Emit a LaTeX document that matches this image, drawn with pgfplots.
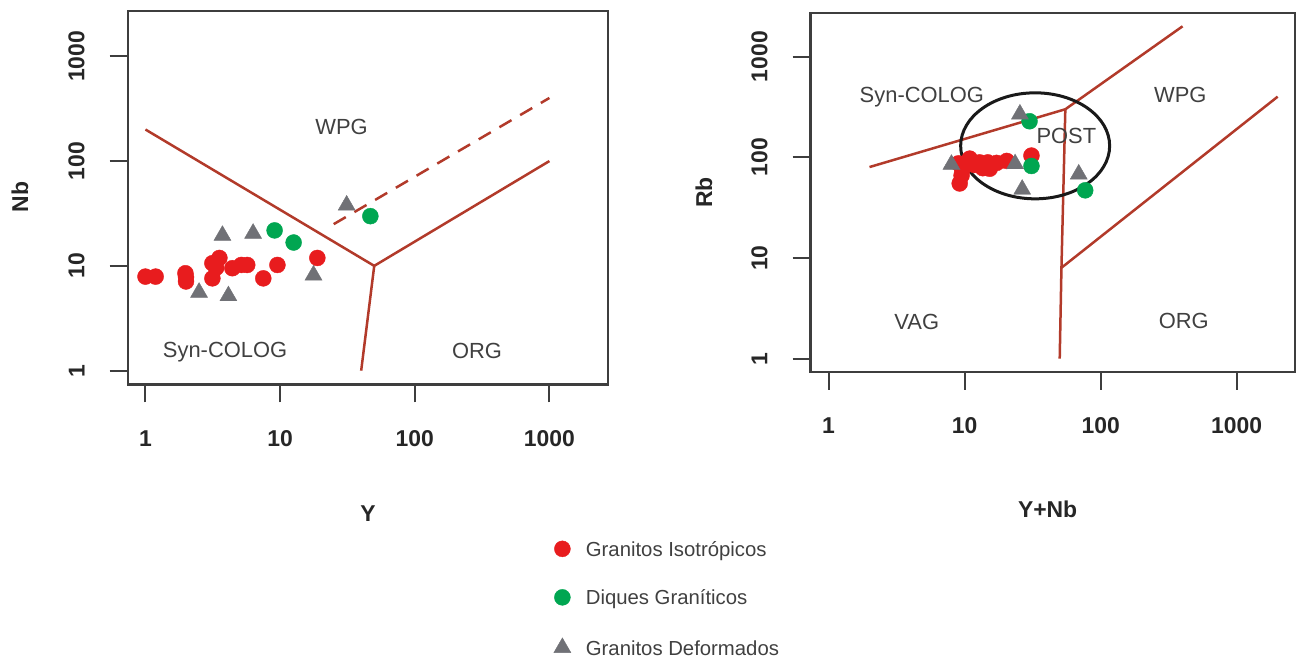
\documentclass[border=0pt]{standalone}
\usepackage{fontspec}
\setmainfont{Liberation Sans}
\usepackage{pgfplots}
\pgfplotsset{compat=1.18}
\definecolor{bnd}{RGB}{178,58,42}
\definecolor{ptred}{RGB}{232,28,30}
\definecolor{ptgreen}{RGB}{0,166,81}
\definecolor{ptgray}{RGB}{112,113,118}
\definecolor{frame}{RGB}{62,62,62}
\definecolor{txt}{RGB}{64,64,64}
\tikzset{rlab/.style={font=\fontsize{22}{22}\selectfont, text=txt}}
\pgfplotsset{
  bline/.style={draw=bnd, line width=2.5bp, mark=none, forget plot},
  redpt/.style={only marks, mark=*, mark size=8bp, mark options={fill=ptred, draw=ptred}},
  greenpt/.style={only marks, mark=*, mark size=8bp, mark options={fill=ptgreen, draw=ptgreen}},
  graypt/.style={only marks, mark=triangle*, mark size=9.8bp, mark options={fill=ptgray, draw=ptgray}},
}
\begin{document}
\begin{tikzpicture}
\useasboundingbox (0,0) rectangle (1296bp,658bp);
\clip (0,0) rectangle (1296bp,658bp);
% ---------------- left: Nb vs Y
\begin{axis}[
  scale only axis,
  xmode=log, ymode=log,
  xmin=0.7379, xmax=2710, ymin=0.7379, ymax=2710,
  xtick={1,10,100,1000}, ytick={1,10,100,1000},
  xticklabels={1,10,100,1000}, yticklabels={1,10,100,1000},
  xminorticks=false, yminorticks=false,
  axis line style={draw=frame, line width=2.4bp},
  major tick style={draw=frame, line width=2bp},
  major tick length=18bp,
  tick align=outside,
  xtick pos=bottom, ytick pos=left,
  ticklabel style={font=\fontsize{23}{23}\selectfont\bfseries, text=black!85, inner sep=0pt},
  xticklabel style={anchor=north, yshift=-27.75bp},
  yticklabel style={rotate=90, anchor=south, yshift=25bp},
  label style={font=\fontsize{23}{23}\selectfont\bfseries, text=black!85, inner sep=0pt},
  clip=false,
  at={(127.7bp,273.5bp)}, anchor=south west,
  width=480bp, height=373.6bp,
  xlabel={Y}, ylabel={Nb},
  xlabel style={at={(axis description cs:0.5006,-0.3466)}, anchor=center},
  ylabel style={at={(axis description cs:-0.2244,0.502)}, anchor=center},
  legend style={at={(axis description cs:0.8875,-0.418)}, anchor=north west,
    draw=none, fill=none, inner xsep=0pt, inner ysep=0pt,
    font=\fontsize{20.4}{20.4}\selectfont, text=txt,
    nodes={inner sep=0pt, text depth=0pt},
    row sep=32.5bp,
    /tikz/every odd column/.append style={column sep=15bp}},
  legend cell align=left,
  legend image code/.code={\draw[mark repeat=2,mark phase=2] plot coordinates {(-7bp,0bp)(0bp,0bp)(7bp,0bp)};},
]
\addplot[bline] coordinates {(1,200) (50,10)};
\addplot[bline] coordinates {(50,10) (40,1)};
\addplot[bline] coordinates {(50,10) (1000,100)};
\addplot[bline, dash pattern=on 14bp off 10bp] coordinates {(25,25) (1000,400)};
\node[rlab] at (axis cs:28.6,212) {WPG};
\node[rlab] at (axis cs:3.9,1.5) {Syn-COLOG};
\node[rlab] at (axis cs:290,1.55) {ORG};
\addplot[redpt] table {
1.00 7.9
1.19 7.9
1.98 8.5
2.00 7.8
2.00 7.1
3.14 10.6
3.54 11.9
3.35 9.6
3.14 7.6
4.42 9.5
5.16 10.2
5.70 10.2
7.50 7.6
9.55 10.2
18.9 11.9
};
\addlegendentry{Granitos Isotrópicos}
\addplot[greenpt] table {
9.1 21.8
12.6 16.7
46.8 29.8
};
\addlegendentry{Diques Graníticos}
\addplot[graypt] table {
3.73 19.5
6.3 20.4
2.5 5.58
4.13 5.17
17.7 8.15
31.2 37.9
};
\addlegendentry{Granitos Deformados}
\end{axis}
% ---------------- right: Rb vs Y+Nb
\begin{axis}[
  scale only axis,
  xmode=log, ymode=log,
  xmin=0.7379, xmax=2710, ymin=0.7379, ymax=2710,
  xtick={1,10,100,1000}, ytick={1,10,100,1000},
  xticklabels={1,10,100,1000}, yticklabels={1,10,100,1000},
  xminorticks=false, yminorticks=false,
  axis line style={draw=frame, line width=2.4bp},
  major tick style={draw=frame, line width=2bp},
  major tick length=18bp,
  tick align=outside,
  xtick pos=bottom, ytick pos=left,
  ticklabel style={font=\fontsize{23}{23}\selectfont\bfseries, text=black!85, inner sep=0pt},
  xticklabel style={anchor=north, yshift=-27.75bp},
  yticklabel style={rotate=90, anchor=south, yshift=25bp},
  label style={font=\fontsize{23}{23}\selectfont\bfseries, text=black!85, inner sep=0pt},
  clip=false,
  at={(810.6bp,286bp)}, anchor=south west,
  width=485bp, height=359bp,
  xlabel={Y+Nb}, ylabel={Rb},
  xlabel style={at={(axis description cs:0.4887,-0.3816)}, anchor=center},
  ylabel style={at={(axis description cs:-0.2198,0.5)}, anchor=center},
]
\addplot[bline] coordinates {(2,80) (55,300)};
\addplot[bline] coordinates {(55,300) (400,2000)};
\addplot[bline] coordinates {(55,300) (51.5,8) (50,1)};
\addplot[bline] coordinates {(51.5,8) (2000,400)};
\draw[black!90, line width=3bp] (axis cs:33,130) ellipse [x radius=74.5bp, y radius=53bp];
\node[rlab] at (axis cs:4.85,395) {Syn-COLOG};
\node[rlab] at (axis cs:56,163) {POST};
\node[rlab] at (axis cs:385,415) {WPG};
\node[rlab] at (axis cs:4.45,2.34) {VAG};
\node[rlab] at (axis cs:408,2.38) {ORG};
\addplot[redpt] table {
9.2 55
9.5 66
9.6 75
9.0 87
10.9 97
11.8 84
12.9 89
13.6 78
14.8 89
15.3 77
17.2 88
20.4 92
31 104
};
\addplot[greenpt] table {
30 228
31 82
77 47
};
\addplot[graypt] table {
25.5 268
8.0 85
23.5 86
26.5 48
69 68
};
\end{axis}
\end{tikzpicture}
\end{document}
